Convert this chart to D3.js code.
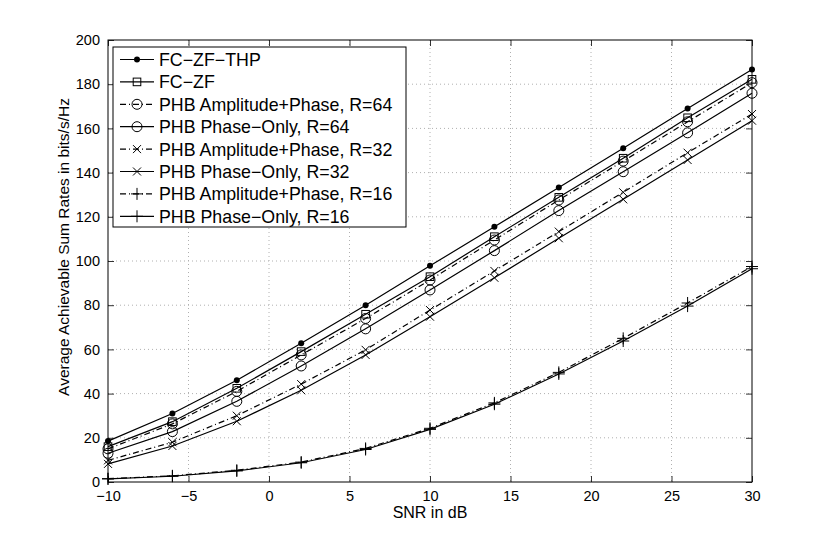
<!DOCTYPE html>
<html><head><meta charset="utf-8">
<script src="https://cdn.jsdelivr.net/npm/d3@7/dist/d3.min.js"></script>
<style>body{margin:0;background:#fff;} text{font-family:"Liberation Sans",Arial,sans-serif;fill:#000;}</style>
</head><body><svg id="c" width="830" height="543"></svg>
<script>
const snr = [-10,-6,-2,2,6,10,14,18,22,26,30];
const fcZfThp = [18.5,31,46,62.8,80,97.8,115.5,133.3,151,169,186.7];
const fcZf    = [16,27.3,42.4,59,75.9,92.9,111,128.8,146.5,164.8,182.2];
const ap64    = [15,26.3,41,57.5,74,91.4,109.5,127.6,145.2,163,180.7];
const po64    = [13,22.8,36.5,52.5,69.3,86.9,104.7,122.8,140.4,158,175.9];
const ap32    = [9.8,18,30,44.3,59.8,77.8,95.5,113.3,131.1,149,166.5];
const po32    = [8.2,16.3,27.5,41.5,57.5,74.8,92.4,110.3,127.9,145.7,163.5];
const ap16    = [1.5,2.8,5.3,9.0,15.2,24.3,35.8,49.6,65,81,97.5];
const po16    = [1.4,2.6,5.0,8.7,14.7,23.8,35.2,48.9,63.8,79.6,96.5];
const seriesNames = ["FC\u2212ZF\u2212THP","FC\u2212ZF","PHB Amplitude+Phase, R=64","PHB Phase\u2212Only, R=64","PHB Amplitude+Phase, R=32","PHB Phase\u2212Only, R=32","PHB Amplitude+Phase, R=16","PHB Phase\u2212Only, R=16"];
const xTicks = [-10,-5,0,5,10,15,20,25,30];
const yTicks = [0,20,40,60,80,100,120,140,160,180,200];

const series = [
  {name:seriesNames[0], v:fcZfThp, m:"dot", dash:null},
  {name:seriesNames[1], v:fcZf, m:"square", dash:null},
  {name:seriesNames[2], v:ap64, m:"circle", dash:"6,3,1,3"},
  {name:seriesNames[3], v:po64, m:"circle", dash:null},
  {name:seriesNames[4], v:ap32, m:"x", dash:"6,3,1,3"},
  {name:seriesNames[5], v:po32, m:"x", dash:null},
  {name:seriesNames[6], v:ap16, m:"plus", dash:"6,3,1,3"},
  {name:seriesNames[7], v:po16, m:"plus", dash:null}
];

const L=108,R=752,T=40,B=482;
const svg=d3.select("#c");
const x=d3.scaleLinear().domain([-10,30]).range([L,R]);
const y=d3.scaleLinear().domain([0,200]).range([B,T]);

// grid
const g=svg.append("g");
g.selectAll(".gx").data(xTicks.slice(1,-1)).join("line")
 .attr("x1",d=>x(d)).attr("x2",d=>x(d)).attr("y1",T).attr("y2",B)
 .attr("stroke","#b0b0b0").attr("stroke-width",1).attr("stroke-dasharray","1,3");
g.selectAll(".gy").data(yTicks.slice(1,-1)).join("line")
 .attr("y1",d=>y(d)).attr("y2",d=>y(d)).attr("x1",L).attr("x2",R)
 .attr("stroke","#b0b0b0").attr("stroke-width",1).attr("stroke-dasharray","1,3");

// axes
const xa=svg.append("g").attr("transform",`translate(0,${B})`)
 .call(d3.axisBottom(x).tickValues(xTicks).tickSize(-6).tickPadding(9).tickFormat(d=>d<0?"\u2212"+(-d):d));
const xt=svg.append("g").attr("transform",`translate(0,${T})`)
 .call(d3.axisTop(x).tickValues(xTicks).tickSize(-6).tickFormat(""));
const ya=svg.append("g").attr("transform",`translate(${L},0)`)
 .call(d3.axisLeft(y).tickValues(yTicks).tickSize(-6).tickPadding(8));
const yr=svg.append("g").attr("transform",`translate(${R},0)`)
 .call(d3.axisRight(y).tickValues(yTicks).tickSize(-6).tickFormat(""));
[xa,xt,ya,yr].forEach(a=>{a.select(".domain").remove();a.selectAll("line").attr("stroke","#333");a.selectAll("text").style("font-size","14.5px").style("font-family","Liberation Sans, Arial, sans-serif");});
svg.append("rect").attr("x",L).attr("y",T).attr("width",R-L).attr("height",B-T).attr("fill","none").attr("stroke","#000").attr("stroke-width",1);

// markers
function drawMarker(sel,m,cx,cy){
  if(m==="dot") sel.append("circle").attr("cx",cx).attr("cy",cy).attr("r",3).attr("fill","#000");
  else if(m==="square") sel.append("rect").attr("x",cx-3.8).attr("y",cy-3.8).attr("width",7.6).attr("height",7.6).attr("fill","none").attr("stroke","#000").attr("stroke-width",1);
  else if(m==="circle") sel.append("circle").attr("cx",cx).attr("cy",cy).attr("r",5).attr("fill","none").attr("stroke","#000").attr("stroke-width",1);
  else if(m==="x") sel.append("path").attr("d",`M${cx-4},${cy-4}L${cx+4},${cy+4}M${cx-4},${cy+4}L${cx+4},${cy-4}`).attr("stroke","#000").attr("stroke-width",1);
  else if(m==="plus") sel.append("path").attr("d",`M${cx-6},${cy}L${cx+6},${cy}M${cx},${cy-6}L${cx},${cy+6}`).attr("stroke","#000").attr("stroke-width",1);
}
const line=d3.line().x((d,i)=>x(snr[i])).y(d=>y(d));
const plot=svg.append("g");
series.forEach(s=>{
  plot.append("path").attr("d",line(s.v)).attr("fill","none").attr("stroke","#000").attr("stroke-width",1.2)
   .attr("stroke-dasharray",s.dash);
  const mg=plot.append("g");
  s.v.forEach((v,i)=>drawMarker(mg,s.m,x(snr[i]),y(v)));
});

// legend
const lg=svg.append("g");
lg.append("rect").attr("x",113).attr("y",47).attr("width",293).attr("height",180).attr("fill","#fff").attr("stroke","#000").attr("stroke-width",1);
series.forEach((s,i)=>{
  const cy=59.5+i*22.4;
  lg.append("line").attr("x1",120).attr("x2",154).attr("y1",cy).attr("y2",cy).attr("stroke","#000").attr("stroke-width",1.2).attr("stroke-dasharray",s.dash);
  drawMarker(lg,s.m,137,cy);
  lg.append("text").attr("x",159).attr("y",cy).attr("dy","0.36em").style("font-size","17.8px").text(s.name);
});

// titles
svg.append("text").attr("x",(L+R)/2).attr("y",518).attr("text-anchor","middle").style("font-size","16px").text("SNR in dB");
svg.append("text").attr("transform","translate(69,247) rotate(-90)").attr("text-anchor","middle").style("font-size","15.5px").text("Average Achievable Sum Rates in bits/s/Hz");
</script></body></html>
